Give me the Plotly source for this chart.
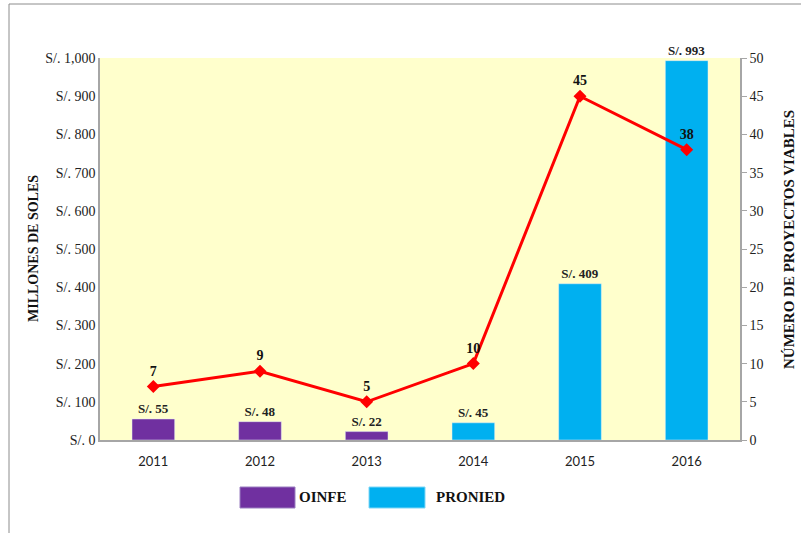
import plotly.graph_objects as go

years = ["2011", "2012", "2013", "2014", "2015", "2016"]
oinfe = [55, 48, 22, None, None, None]
pronied = [None, None, None, 45, 409, 993]
proyectos = [7, 9, 5, 10, 45, 38]

PURPLE = "#7030A0"
BLUE = "#00B0F0"
RED = "#FF0000"
SERIF = "Liberation Serif, Times New Roman, serif"


def labels(vals):
    return [f"<b>S/. {v}</b>" if v is not None else "" for v in vals]


fig = go.Figure()
fig.add_trace(go.Bar(
    x=years, y=oinfe, name="OINFE", marker_color=PURPLE, width=0.4,
    text=labels(oinfe), texttemplate="%{text}", textposition="outside",
    constraintext="none",
    textfont=dict(family=SERIF, size=13, color="#222"), cliponaxis=False,
))
fig.add_trace(go.Bar(
    x=years, y=pronied, name="PRONIED", marker_color=BLUE, width=0.4,
    text=labels(pronied), texttemplate="%{text}", textposition="outside",
    constraintext="none",
    textfont=dict(family=SERIF, size=13, color="#222"), cliponaxis=False,
))
fig.add_trace(go.Scatter(
    x=years, y=proyectos, yaxis="y2", mode="lines+markers+text",
    line=dict(color=RED, width=3), marker=dict(symbol="diamond", size=10, color=RED),
    text=[f"<b>{v}</b>" for v in proyectos], textposition="top center",
    textfont=dict(family=SERIF, size=14, color="#111"), cliponaxis=False,
    name="Proyectos",
))

W, H = 807, 533
L, R, T, B = 100, 67, 58, 93
pw, ph = W - L - R, H - T - B


def px(x):
    return (x - L) / pw


def py(y):
    return (H - B - y) / ph


shapes = [
    dict(type="line", xref="paper", yref="paper", x0=px(9), x1=px(801), y0=py(4), y1=py(4),
         line=dict(color="#8c8c8c", width=1)),
    dict(type="line", xref="paper", yref="paper", x0=px(9), x1=px(9), y0=py(4), y1=py(540),
         line=dict(color="#8c8c8c", width=1)),
    dict(type="rect", xref="paper", yref="paper", x0=px(240), x1=px(295), y0=py(487), y1=py(508),
         fillcolor=PURPLE, line=dict(color="#9a7fc0", width=1)),
    dict(type="rect", xref="paper", yref="paper", x0=px(369), x1=px(425), y0=py(487), y1=py(508),
         fillcolor=BLUE, line=dict(color="#7fd6f6", width=1)),
]
annotations = [
    dict(xref="paper", yref="paper", x=px(297), y=py(497), text="<b>OINFE</b>", showarrow=False,
         xanchor="left", yanchor="middle", font=dict(family=SERIF, size=15, color="#111")),
    dict(xref="paper", yref="paper", x=px(434), y=py(497), text="<b>PRONIED</b>", showarrow=False,
         xanchor="left", yanchor="middle", font=dict(family=SERIF, size=15, color="#111")),
    dict(xref="paper", yref="paper", x=px(33), y=py(249), text="<b>MILLONES DE SOLES</b>",
         showarrow=False, textangle=-90, xanchor="center", yanchor="middle",
         font=dict(family=SERIF, size=14, color="#111")),
    dict(xref="paper", yref="paper", x=px(789), y=py(240), text="<b>NÚMERO DE PROYECTOS VIABLES</b>",
         showarrow=False, textangle=-90, xanchor="center", yanchor="middle",
         font=dict(family=SERIF, size=15, color="#111")),
]

fig.update_layout(
    width=W, height=H,
    margin=dict(l=L, r=R, t=T, b=B, pad=0),
    paper_bgcolor="white", plot_bgcolor="#FFFFCC",
    barmode="overlay", showlegend=False,
    shapes=shapes, annotations=annotations,
    xaxis=dict(showgrid=False, showline=True, linecolor="#a6a6a6", linewidth=1.5,
               tickfont=dict(family="Lato, Liberation Sans, sans-serif", size=13, color="#222"),
               ticks="outside", ticklen=9, tickcolor="rgba(0,0,0,0)"),
    yaxis=dict(range=[0, 1000], dtick=100, tickprefix="S/. ", tickformat=",",
               showgrid=False, showline=True, linecolor="#a6a6a6", linewidth=1.5,
               ticks="", zeroline=False,
               tickfont=dict(family=SERIF, size=14, color="#222")),
    yaxis2=dict(range=[0, 50], dtick=5, overlaying="y", side="right",
                showgrid=False, showline=True, linecolor="#a6a6a6", linewidth=1.5,
                ticks="outside", ticklen=5, tickcolor="#a6a6a6", zeroline=False,
                tickfont=dict(family=SERIF, size=14, color="#222")),
)

fig.write_html("out.html")
